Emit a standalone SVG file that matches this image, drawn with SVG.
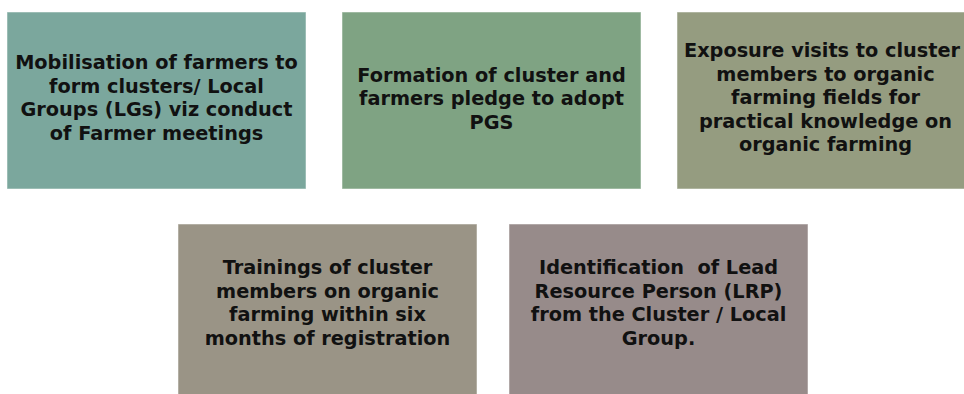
<svg xmlns="http://www.w3.org/2000/svg" width="964" height="394" viewBox="0 0 964 394">
<style>
.box{stroke:#ffffff;stroke-opacity:0.5;stroke-width:1}
.t{font-family:"DejaVu Sans","Liberation Sans",sans-serif;font-weight:bold;font-size:19.3px;fill:#111111;text-anchor:middle}
</style>
<rect width="964" height="394" fill="#ffffff"/>
<g id="n1">
<rect class="box" x="7" y="12" width="299" height="177" fill="#7ba79d"/>
<text class="t" x="156.5" y="69">Mobilisation of farmers to</text>
<text class="t" x="156.5" y="92.5">form clusters/ Local</text>
<text class="t" x="156.5" y="116">Groups (LGs) viz conduct</text>
<text class="t" x="156.5" y="139.5">of Farmer meetings</text>
</g>
<g id="n2">
<rect class="box" x="342" y="12" width="299" height="177" fill="#7fa383"/>
<text class="t" x="491.5" y="81.5">Formation of cluster and</text>
<text class="t" x="491.5" y="105">farmers pledge to adopt</text>
<text class="t" x="491.5" y="128.5">PGS</text>
</g>
<g id="n3">
<rect class="box" x="677" y="12" width="299" height="177" fill="#959c80"/>
<text class="t" x="822" y="57">Exposure visits to cluster</text>
<text class="t" x="825.5" y="80.5">members to organic</text>
<text class="t" x="825.5" y="104">farming fields for</text>
<text class="t" x="825.5" y="127.5">practical knowledge on</text>
<text class="t" x="825.5" y="151">organic farming</text>
</g>
<g id="n4">
<rect class="box" x="178" y="224" width="299" height="177" fill="#9a9486"/>
<text class="t" x="327.5" y="274">Trainings of cluster</text>
<text class="t" x="327.5" y="297.5">members on organic</text>
<text class="t" x="327.5" y="321">farming within six</text>
<text class="t" x="327.5" y="344.5">months of registration</text>
</g>
<g id="n5">
<rect class="box" x="509" y="224" width="299" height="177" fill="#978b8a"/>
<text class="t" x="658.5" y="274" xml:space="preserve">Identification  of Lead</text>
<text class="t" x="658.5" y="297.5">Resource Person (LRP)</text>
<text class="t" x="658.5" y="321">from the Cluster / Local</text>
<text class="t" x="658.5" y="344.5">Group.</text>
</g>
<g id="connectors"></g>
</svg>
